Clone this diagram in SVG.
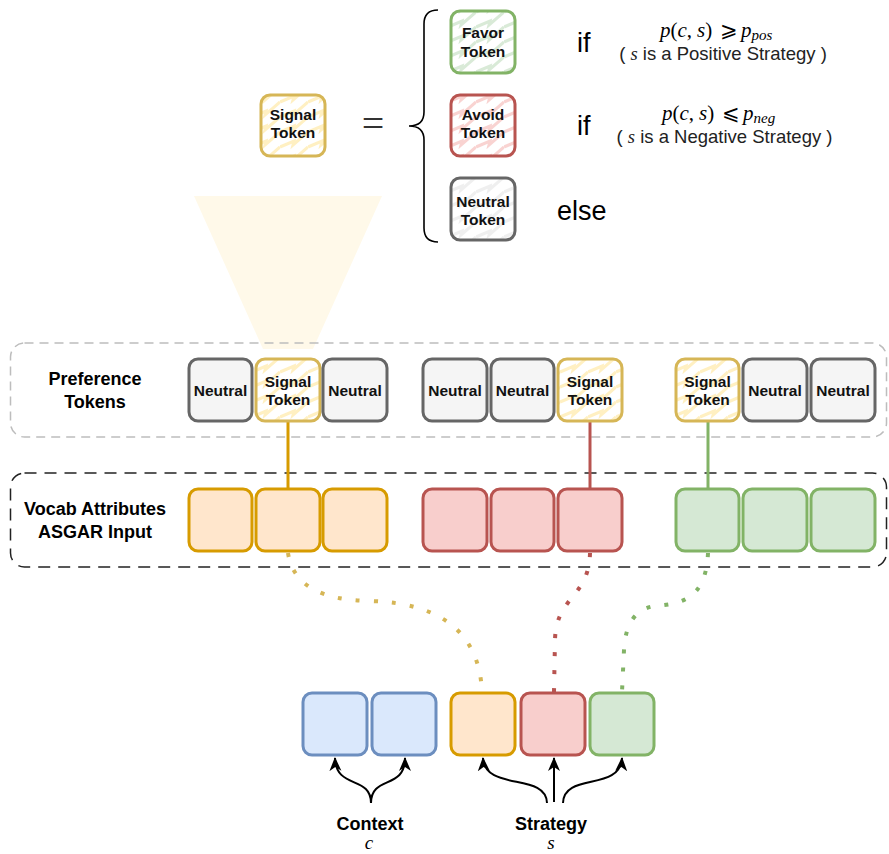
<svg xmlns="http://www.w3.org/2000/svg" width="889" height="854" viewBox="0 0 889 854">
<style>
.lbl{font-family:"Liberation Sans",Arial,sans-serif;font-weight:bold;font-size:18px;fill:#000;text-anchor:middle}
.tok{font-family:"Liberation Sans",Arial,sans-serif;font-weight:bold;font-size:15.5px;fill:#111;text-anchor:middle}
.big{font-family:"Liberation Sans",Arial,sans-serif;font-size:27px;fill:#000}
.txt{font-family:"Liberation Sans",Arial,sans-serif;font-size:18.5px;fill:#222;text-anchor:middle}
.m{font-family:"Liberation Serif","Times New Roman",serif;font-style:italic}
.mr{font-family:"Liberation Serif","Times New Roman",serif;font-style:normal}
.box{stroke-width:3}
.neu{fill:#f5f5f5;stroke:#666666}
.sig{fill:url(#zy);stroke:#d6b656}
.fav{fill:url(#zg);stroke:#82b366}
.avo{fill:url(#zr);stroke:#b85450}
.ntk{fill:url(#zn);stroke:#666666}
.or{fill:#ffe6cc;stroke:#d79b00}
.rd{fill:#f8cecc;stroke:#b85450}
.gr{fill:#d5e8d4;stroke:#82b366}
.bl{fill:#dae8fc;stroke:#6c8ebf}
.dot{fill:none;stroke-width:4;stroke-dasharray:4 14}
.arr{fill:none;stroke:#000;stroke-width:2;marker-end:url(#ah)}
.zz{fill:none;stroke-width:3}
</style>
<defs>
<path id="zpath" d="M0,-3 L14,-9 L13,-5 L28,-18 M0,12 L14,6 L13,10 L28,-3 M0,27 L14,21 L13,25 L28,12"/>
<pattern id="zy" patternUnits="userSpaceOnUse" width="28" height="15"><rect width="28" height="15" fill="#fff"/><use href="#zpath" class="zz" stroke="#fff0c2"/></pattern>
<pattern id="zg" patternUnits="userSpaceOnUse" width="28" height="15"><rect width="28" height="15" fill="#fff"/><use href="#zpath" class="zz" stroke="#d9ead7"/></pattern>
<pattern id="zr" patternUnits="userSpaceOnUse" width="28" height="15"><rect width="28" height="15" fill="#fff"/><use href="#zpath" class="zz" stroke="#f9d3d1"/></pattern>
<pattern id="zn" patternUnits="userSpaceOnUse" width="28" height="15"><rect width="28" height="15" fill="#fff"/><use href="#zpath" class="zz" stroke="#efefef"/></pattern>
<marker id="ah" markerUnits="userSpaceOnUse" markerWidth="15" markerHeight="15" viewBox="0 0 15 15" refX="13" refY="7.5" orient="auto"><path d="M0,1.5 L14,7.5 L0,13.5 L4,7.5 Z" fill="#000"/></marker>
</defs>

<!-- spotlight -->
<polygon points="194,196 382,196 313,349 263,349" fill="#fff9e9"/>

<!-- containers -->
<g id="pref-container">
<rect x="10.5" y="343" width="876" height="94" rx="14" fill="none" stroke="#bdbdbd" stroke-width="1.5" stroke-dasharray="9 6"/>
<text class="lbl" x="95" y="385">Preference</text>
<text class="lbl" x="95" y="408">Tokens</text>
</g>
<g id="vocab-container">
<rect x="10.5" y="473" width="876" height="94" rx="14" fill="none" stroke="#222" stroke-width="1.5" stroke-dasharray="12 8"/>
<text class="lbl" x="95" y="515">Vocab Attributes</text>
<text class="lbl" x="95" y="538">ASGAR Input</text>
</g>

<!-- top definition -->
<g id="signal-def">
<rect class="box sig" x="261" y="95" width="64" height="61" rx="9"/>
<text class="tok" x="293" y="120">Signal</text>
<text class="tok" x="293" y="138">Token</text>
</g>
<text id="equals" x="373" y="137" font-family="Liberation Serif,serif" font-size="40" text-anchor="middle" fill="#333">=</text>
<path id="brace" d="M438,10 Q424,10 424,24 L424,112 Q424,126 409,126 Q424,126 424,140 L424,228 Q424,242 438,242" fill="none" stroke="#000" stroke-width="1.6"/>
<g id="favor">
<rect class="box fav" x="451" y="11" width="64" height="62" rx="9"/>
<text class="tok" x="483" y="38">Favor</text>
<text class="tok" x="483" y="57">Token</text>
</g>
<g id="avoid">
<rect class="box avo" x="451" y="95" width="64" height="61" rx="9"/>
<text class="tok" x="483" y="120">Avoid</text>
<text class="tok" x="483" y="138">Token</text>
</g>
<g id="neutral-token">
<rect class="box ntk" x="451" y="178" width="64" height="62" rx="9"/>
<text class="tok" x="483" y="207" fill="#333">Neutral</text>
<text class="tok" x="483" y="225" fill="#333">Token</text>
</g>
<text class="big" x="577" y="52">if</text>
<text class="big" x="577" y="135">if</text>
<text class="big" x="557" y="220">else</text>
<text y="37" font-size="21" fill="#000" font-family="Liberation Serif,serif"><tspan x="660" class="m">p</tspan><tspan class="mr">(</tspan><tspan class="m">c</tspan><tspan class="mr">,</tspan><tspan x="697" class="m">s</tspan><tspan class="mr">)</tspan><tspan x="720" class="mr">⩾</tspan><tspan x="741" class="m">p</tspan><tspan class="m" font-size="15" dy="3">pos</tspan></text>
<text class="txt" x="723" y="60">( <tspan class="m">s</tspan> is a Positive Strategy )</text>
<text y="120" font-size="21" fill="#000" font-family="Liberation Serif,serif"><tspan x="662" class="m">p</tspan><tspan class="mr">(</tspan><tspan class="m">c</tspan><tspan class="mr">,</tspan><tspan x="699" class="m">s</tspan><tspan class="mr">)</tspan><tspan x="722" class="mr">⩽</tspan><tspan x="743" class="m">p</tspan><tspan class="m" font-size="15" dy="3">neg</tspan></text>
<text class="txt" x="724.5" y="143">( <tspan class="m">s</tspan> is a Negative Strategy )</text>

<!-- connectors -->
<g id="connectors">
<line x1="288" y1="421" x2="288" y2="489" stroke="#d79b00" stroke-width="3"/>
<line x1="590" y1="421" x2="590" y2="489" stroke="#b85450" stroke-width="3"/>
<line x1="708" y1="421" x2="708" y2="489" stroke="#82b366" stroke-width="3"/>
<path class="dot" stroke="#d6b656" d="M288,553 Q295,600 370,601 Q478,604 482,692"/>
<path class="dot" stroke="#b85450" d="M590,553 C589,598 556,596 555,640 L554,692"/>
<path class="dot" stroke="#82b366" d="M708,553 C706,600 680,604 655,606 Q626,610 624,650 L622,692"/>
<path class="arr" d="M371,803 C371,775 336,790 335,758"/>
<path class="arr" d="M371,803 C371,775 405,790 405,758"/>
<path class="arr" d="M547,803 C546,772 485,792 483,758"/>
<path class="arr" d="M554,802 L554,758"/>
<path class="arr" d="M563,803 C564,772 620,792 622,758"/>
</g>

<!-- preference tokens row -->
<g id="p1"><rect class="box neu" x="189" y="359" width="63" height="62" rx="9"/><text class="tok" x="220.5" y="396">Neutral</text></g>
<g id="p2"><rect class="box sig" x="256" y="359" width="64" height="62" rx="9"/><text class="tok" x="288" y="387">Signal</text><text class="tok" x="288" y="405">Token</text></g>
<g id="p3"><rect class="box neu" x="323" y="359" width="64" height="62" rx="9"/><text class="tok" x="355" y="396">Neutral</text></g>
<g id="p4"><rect class="box neu" x="423" y="359" width="64" height="62" rx="9"/><text class="tok" x="455" y="396">Neutral</text></g>
<g id="p5"><rect class="box neu" x="491" y="359" width="63" height="62" rx="9"/><text class="tok" x="522.5" y="396">Neutral</text></g>
<g id="p6"><rect class="box sig" x="558" y="359" width="64" height="62" rx="9"/><text class="tok" x="590" y="387">Signal</text><text class="tok" x="590" y="405">Token</text></g>
<g id="p7"><rect class="box sig" x="676" y="359" width="63" height="62" rx="9"/><text class="tok" x="707.5" y="387">Signal</text><text class="tok" x="707.5" y="405">Token</text></g>
<g id="p8"><rect class="box neu" x="743" y="359" width="64" height="62" rx="9"/><text class="tok" x="775" y="396">Neutral</text></g>
<g id="p9"><rect class="box neu" x="811" y="359" width="64" height="62" rx="9"/><text class="tok" x="843" y="396">Neutral</text></g>

<!-- vocab row -->
<g id="v1"><rect class="box or" x="189" y="489" width="63" height="62" rx="9"/></g>
<g id="v2"><rect class="box or" x="256" y="489" width="64" height="62" rx="9"/></g>
<g id="v3"><rect class="box or" x="323" y="489" width="64" height="62" rx="9"/></g>
<g id="v4"><rect class="box rd" x="423" y="489" width="64" height="62" rx="9"/></g>
<g id="v5"><rect class="box rd" x="491" y="489" width="63" height="62" rx="9"/></g>
<g id="v6"><rect class="box rd" x="558" y="489" width="64" height="62" rx="9"/></g>
<g id="v7"><rect class="box gr" x="676" y="489" width="63" height="62" rx="9"/></g>
<g id="v8"><rect class="box gr" x="743" y="489" width="64" height="62" rx="9"/></g>
<g id="v9"><rect class="box gr" x="811" y="489" width="64" height="62" rx="9"/></g>

<!-- input row -->
<g id="c1"><rect class="box bl" x="303" y="693" width="64" height="62" rx="9"/></g>
<g id="c2"><rect class="box bl" x="372" y="693" width="64" height="62" rx="9"/></g>
<g id="s1"><rect class="box or" x="451" y="693" width="64" height="62" rx="9"/></g>
<g id="s2"><rect class="box rd" x="521" y="693" width="64" height="62" rx="9"/></g>
<g id="s3"><rect class="box gr" x="590" y="693" width="64" height="62" rx="9"/></g>

<g id="context-label"><text class="lbl" x="370" y="830">Context</text><text x="369" y="849" font-size="19" text-anchor="middle" class="m" fill="#000">c</text></g>
<g id="strategy-label"><text class="lbl" x="551" y="830">Strategy</text><text x="551" y="849" font-size="19" text-anchor="middle" class="m" fill="#000">s</text></g>
</svg>
